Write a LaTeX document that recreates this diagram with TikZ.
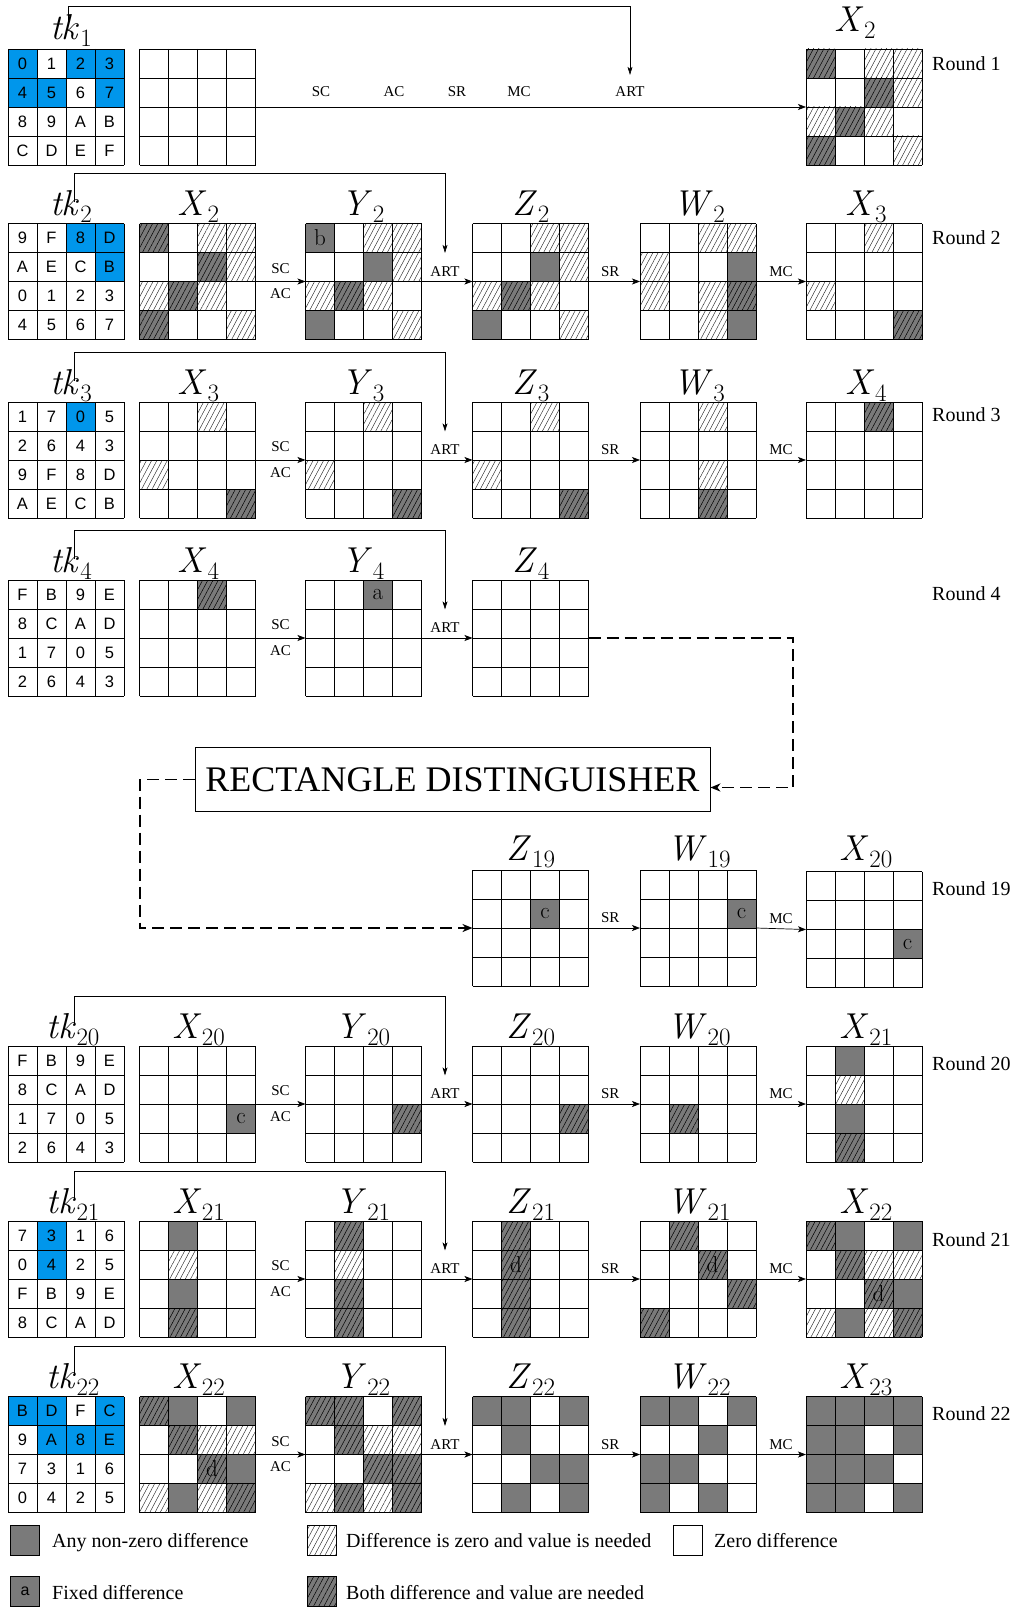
\documentclass[tikz,border=0pt]{standalone}
\usepackage{fontspec}
\newfontfamily\tms{Liberation Serif}
\newfontfamily\hvs{Liberation Sans}
\usetikzlibrary{arrows.meta,patterns.meta,calc}
\definecolor{cgray}{RGB}{122,122,122}
\definecolor{tkblue}{RGB}{0,150,235}
\newcommand{\lb}[2]{\textit{#1}\kern0.5pt\raisebox{-7pt}{\fontsize{25}{28}\selectfont #2}}
\tikzset{
  gl/.style={draw=black,line width=0.9pt},
  cell0/.style={},
  cell1/.style={fill=cgray},
  cell2/.style={pattern={Lines[angle=62,distance=4.6pt,line width=0.45pt]},pattern color=black!85},
  cell3/.style={fill=cgray,postaction={pattern={Lines[angle=62,distance=4.6pt,line width=0.5pt]},pattern color=black}},
  frame/.style={minimum width=116pt,minimum height=116pt,inner sep=0pt,outer sep=0pt},
  lab/.style={font=\fontsize{36}{40}\selectfont,anchor=base,inner sep=0pt},
  oplab/.style={font=\fontsize{15}{18}\selectfont\tms,inner sep=0pt},
  rnd/.style={font=\fontsize{20}{24}\selectfont\tms,anchor=base west,inner sep=0pt},
  legtxt/.style={font=\fontsize{20}{24}\selectfont\tms,anchor=base west,inner sep=0pt},
  hex/.style={font=\fontsize{16.5}{19}\selectfont\hvs,inner sep=0pt},
  let/.style={font=\fontsize{23}{26}\selectfont,inner sep=0pt},
  oparr/.style={-{Stealth[length=8pt,width=6pt,inset=2pt]},line width=0.7pt},
  tkarr/.style={-{Stealth[length=8pt,width=5pt,inset=2pt]},line width=0.6pt},
  dsh/.style={line width=1.9pt,dash pattern=on 12pt off 6pt},
  legbox/.style={draw=black,line width=0.6pt,minimum width=29pt,minimum height=30pt,inner sep=0pt},
}
% #1 name, #2 x, #3 y, #4 codes
\newcommand{\cellgrid}[4]{%
  \node[frame] (#1) at (#2+58,#3+58) {};
  \foreach \c [count=\i from 0] in {#4} {%
    \pgfmathtruncatemacro{\rr}{floor(\i/4)}%
    \pgfmathtruncatemacro{\qq}{\i-4*\rr}%
    \path[cell\c] (#2+\qq*29,#3+\rr*29) rectangle ++(29,29);
  }%
  \foreach \k in {0,...,4} {%
    \draw[gl] (#2+\k*29,#3) -- ++(0,116);
    \draw[gl] (#2,#3+\k*29) -- ++(116,0);
  }%
}
% #1 name, #2 x, #3 y, #4 value/blue list
\newcommand{\tkgrid}[4]{%
  \node[frame] (#1) at (#2+58,#3+58) {};
  \foreach \v/\b [count=\i from 0] in {#4} {%
    \pgfmathtruncatemacro{\rr}{floor(\i/4)}%
    \pgfmathtruncatemacro{\qq}{\i-4*\rr}%
    \ifnum\b=1 \fill[tkblue] (#2+\qq*29,#3+\rr*29) rectangle ++(29,29);\fi
    \node[hex] (#1c\i) at (#2+\qq*29+14.5,#3+\rr*29+14.5) {\v};
  }%
  \foreach \k in {0,...,4} {%
    \draw[gl] (#2+\k*29,#3) -- ++(0,116);
    \draw[gl] (#2,#3+\k*29) -- ++(116,0);
  }%
}
% #1 node name, #2 grid, #3 row, #4 col, #5 text
\newcommand{\lett}[5]{%
  \node[let] (#1) at ($(#2.north west)+(#4*29+14.5,#3*29+14.5)$) {#5};
}
\begin{document}
\begin{tikzpicture}[x=1pt,y=-1pt]
\useasboundingbox (0,0) rectangle (1019,1608);

% ---------------- Round 1
\tkgrid{tkA}{8}{49}{0/1,1/0,2/1,3/1,4/1,5/1,6/0,7/1,8/0,9/0,A/0,B/0,C/0,D/0,E/0,F/0}
\cellgrid{PA}{139.5}{49}{0,0,0,0,0,0,0,0,0,0,0,0,0,0,0,0}
\cellgrid{XbA}{806}{49}{3,0,2,2,0,0,3,2,2,3,2,0,3,0,0,2}
\node[lab] (ltkA) at (71,40) {\lb{tk}{1}};
\node[lab] (lXbA) at (855,32) {\lb{X}{2}};
\node[rnd] (rA) at (932,70.5) {Round 1};
\draw[oparr] (PA.east) -- (XbA.west);
\node[oplab] (scA) at (321,92) {SC};
\node[oplab] (acA) at (394,92) {AC};
\node[oplab] (srA) at (457,92) {SR};
\node[oplab] (mcA) at (519,92) {MC};
\node[oplab] (artA) at (630,92) {ART};
\coordinate (sA) at (68.6,25);
\draw[tkarr] (sA) -- ++(0,-18.3) -| ([yshift=12pt]artA.north);

% ---------------- Round 2
\tkgrid{tkB}{8}{223.5}{9/0,F/0,8/1,D/1,A/0,E/0,C/0,B/1,0/0,1/0,2/0,3/0,4/0,5/0,6/0,7/0}
\cellgrid{XB}{139.5}{223.5}{3,0,2,2,0,0,3,2,2,3,2,0,3,0,0,2}
\cellgrid{YB}{305.5}{223.5}{1,0,2,2,0,0,1,2,2,3,2,0,1,0,0,2}
\cellgrid{ZB}{472.5}{223.5}{0,0,2,2,0,0,1,2,2,3,2,0,1,0,0,2}
\cellgrid{WB}{640}{223.5}{0,0,2,2,2,0,0,1,2,0,2,3,0,0,2,1}
\cellgrid{XXB}{806}{223.5}{0,0,2,0,0,0,0,0,2,0,0,0,0,0,0,3}
\lett{bB}{YB}{0}{0}{b}
\node[lab] (ltkB) at (71,215.5) {\lb{tk}{2}};
\node[lab] (lXB) at (198.5,215.5) {\lb{X}{2}};
\node[lab] (lYB) at (363,215.5) {\lb{Y}{2}};
\node[lab] (lZB) at (531,215.5) {\lb{Z}{2}};
\node[lab] (lWB) at (699,215.5) {\lb{W}{2}};
\node[lab] (lXXB) at (866,215.5) {\lb{X}{3}};
\node[rnd] (rB) at (932,244) {Round 2};
\draw[oparr] (XB.east) -- node[oplab,above=8pt] (scB) {SC} node[oplab,below=7pt] (acB) {AC} (YB.west);
\draw[oparr] (YB.east) -- node[oplab,above=5pt,xshift=-2pt] (artB) {ART} (ZB.west);
\draw[oparr] (ZB.east) -- node[oplab,above=5pt,xshift=-4pt] (srB) {SR} (WB.west);
\draw[oparr] (WB.east) -- node[oplab,above=5pt] (mcB) {MC} (XXB.west);
\coordinate (sB) at (74,202.5);
\draw[tkarr] (sB) -- ++(0,-29) -| ([yshift=13pt]artB.north);

% ---------------- Round 3
\tkgrid{tkC}{8}{402}{1/0,7/0,0/1,5/0,2/0,6/0,4/0,3/0,9/0,F/0,8/0,D/0,A/0,E/0,C/0,B/0}
\cellgrid{XC}{139.5}{402}{0,0,2,0,0,0,0,0,2,0,0,0,0,0,0,3}
\cellgrid{YC}{305.5}{402}{0,0,2,0,0,0,0,0,2,0,0,0,0,0,0,3}
\cellgrid{ZC}{472.5}{402}{0,0,2,0,0,0,0,0,2,0,0,0,0,0,0,3}
\cellgrid{WC}{640}{402}{0,0,2,0,0,0,0,0,0,0,2,0,0,0,3,0}
\cellgrid{XXC}{806}{402}{0,0,3,0,0,0,0,0,0,0,0,0,0,0,0,0}
\node[lab] (ltkC) at (71,394) {\lb{tk}{3}};
\node[lab] (lXC) at (198.5,394) {\lb{X}{3}};
\node[lab] (lYC) at (363,394) {\lb{Y}{3}};
\node[lab] (lZC) at (531,394) {\lb{Z}{3}};
\node[lab] (lWC) at (699,394) {\lb{W}{3}};
\node[lab] (lXXC) at (866,394) {\lb{X}{4}};
\node[rnd] (rC) at (932,421) {Round 3};
\draw[oparr] (XC.east) -- node[oplab,above=8pt] (scC) {SC} node[oplab,below=7pt] (acC) {AC} (YC.west);
\draw[oparr] (YC.east) -- node[oplab,above=5pt,xshift=-2pt] (artC) {ART} (ZC.west);
\draw[oparr] (ZC.east) -- node[oplab,above=5pt,xshift=-4pt] (srC) {SR} (WC.west);
\draw[oparr] (WC.east) -- node[oplab,above=5pt] (mcC) {MC} (XXC.west);
\coordinate (sC) at (74,381);
\draw[tkarr] (sC) -- ++(0,-29) -| ([yshift=13pt]artC.north);

% ---------------- Round 4
\tkgrid{tkD}{8}{580}{F/0,B/0,9/0,E/0,8/0,C/0,A/0,D/0,1/0,7/0,0/0,5/0,2/0,6/0,4/0,3/0}
\cellgrid{XD}{139.5}{580}{0,0,3,0,0,0,0,0,0,0,0,0,0,0,0,0}
\cellgrid{YD}{305.5}{580}{0,0,1,0,0,0,0,0,0,0,0,0,0,0,0,0}
\cellgrid{ZD}{472.5}{580}{0,0,0,0,0,0,0,0,0,0,0,0,0,0,0,0}
\lett{aD}{YD}{0}{2}{a}
\node[lab] (ltkD) at (71,572) {\lb{tk}{4}};
\node[lab] (lXD) at (198.5,572) {\lb{X}{4}};
\node[lab] (lYD) at (363,572) {\lb{Y}{4}};
\node[lab] (lZD) at (531,572) {\lb{Z}{4}};
\node[rnd] (rD) at (932,600) {Round 4};
\draw[oparr] (XD.east) -- node[oplab,above=8pt] (scD) {SC} node[oplab,below=7pt] (acD) {AC} (YD.west);
\draw[oparr] (YD.east) -- node[oplab,above=5pt,xshift=-2pt] (artD) {ART} (ZD.west);
\coordinate (sD) at (74,559);
\draw[tkarr] (sD) -- ++(0,-29) -| ([yshift=13pt]artD.north);

% ---------------- Rectangle distinguisher
\node[draw,line width=0.8pt,minimum width=515pt,minimum height=63.5pt,inner sep=0pt,
      font=\fontsize{36}{40}\selectfont\tms] (rd) at (452.5,779.5) {RECTANGLE DISTINGUISHER};

% ---------------- Round 19
\cellgrid{ZS}{472.5}{870}{0,0,0,0,0,0,1,0,0,0,0,0,0,0,0,0}
\cellgrid{WS}{640}{870}{0,0,0,0,0,0,0,1,0,0,0,0,0,0,0,0}
\cellgrid{XS}{806}{871.5}{0,0,0,0,0,0,0,0,0,0,0,1,0,0,0,0}
\lett{cZS}{ZS}{1}{2}{c}
\lett{cWS}{WS}{1}{3}{c}
\lett{cXS}{XS}{2}{3}{c}
\node[lab] (lZS) at (531,860) {\lb{Z}{19}};
\node[lab] (lWS) at (699,860) {\lb{W}{19}};
\node[lab] (lXS) at (866,860) {\lb{X}{20}};
\node[rnd] (rS) at (932,895) {Round 19};
\draw[oparr] (ZS.east) -- node[oplab,above=5pt,xshift=-4pt] (srS) {SR} (WS.west);
\draw[oparr] (WS.east) -- node[oplab,above=5pt] (mcS) {MC} (XS.west);

% dashed connections
\draw[dsh,-{Stealth[length=10pt,width=8pt,inset=3pt]}] (ZD.east) -| ($(rd.east)+(83,8)$) -- ($(rd.east)+(0,8)$);
\draw[dsh,-{Stealth[length=10pt,width=8pt,inset=3pt]}] (rd.west) -- ++(-55,0) |- (ZS.west);

% ---------------- Round 20
\tkgrid{tkE}{8}{1046}{F/0,B/0,9/0,E/0,8/0,C/0,A/0,D/0,1/0,7/0,0/0,5/0,2/0,6/0,4/0,3/0}
\cellgrid{XE}{139.5}{1046}{0,0,0,0,0,0,0,0,0,0,0,1,0,0,0,0}
\cellgrid{YE}{305.5}{1046}{0,0,0,0,0,0,0,0,0,0,0,3,0,0,0,0}
\cellgrid{ZE}{472.5}{1046}{0,0,0,0,0,0,0,0,0,0,0,3,0,0,0,0}
\cellgrid{WE}{640}{1046}{0,0,0,0,0,0,0,0,0,3,0,0,0,0,0,0}
\cellgrid{XXE}{806}{1046}{0,1,0,0,0,2,0,0,0,1,0,0,0,3,0,0}
\lett{cXE}{XE}{2}{3}{c}
\node[lab] (ltkE) at (73,1038) {\lb{tk}{20}};
\node[lab] (lXE) at (198.5,1038) {\lb{X}{20}};
\node[lab] (lYE) at (363,1038) {\lb{Y}{20}};
\node[lab] (lZE) at (531,1038) {\lb{Z}{20}};
\node[lab] (lWE) at (699,1038) {\lb{W}{20}};
\node[lab] (lXXE) at (866,1038) {\lb{X}{21}};
\node[rnd] (rE) at (932,1070) {Round 20};
\draw[oparr] (XE.east) -- node[oplab,above=8pt] (scE) {SC} node[oplab,below=7pt] (acE) {AC} (YE.west);
\draw[oparr] (YE.east) -- node[oplab,above=5pt,xshift=-2pt] (artE) {ART} (ZE.west);
\draw[oparr] (ZE.east) -- node[oplab,above=5pt,xshift=-4pt] (srE) {SR} (WE.west);
\draw[oparr] (WE.east) -- node[oplab,above=5pt] (mcE) {MC} (XXE.west);
\coordinate (sE) at (74,1025);
\draw[tkarr] (sE) -- ++(0,-29) -| ([yshift=13pt]artE.north);

% ---------------- Round 21
\tkgrid{tkF}{8}{1221}{7/0,3/1,1/0,6/0,0/0,4/1,2/0,5/0,F/0,B/0,9/0,E/0,8/0,C/0,A/0,D/0}
\cellgrid{XF}{139.5}{1221}{0,1,0,0,0,2,0,0,0,1,0,0,0,3,0,0}
\cellgrid{YF}{305.5}{1221}{0,3,0,0,0,2,0,0,0,3,0,0,0,3,0,0}
\cellgrid{ZF}{472.5}{1221}{0,3,0,0,0,3,0,0,0,3,0,0,0,3,0,0}
\cellgrid{WF}{640}{1221}{0,3,0,0,0,0,3,0,0,0,0,3,3,0,0,0}
\cellgrid{XXF}{806}{1221}{3,1,0,1,0,3,2,2,0,0,3,1,2,1,2,3}
\lett{dZF}{ZF}{1}{1}{d}
\lett{dWF}{WF}{1}{2}{d}
\lett{dXXF}{XXF}{2}{2}{d}
\node[lab] (ltkF) at (73,1213) {\lb{tk}{21}};
\node[lab] (lXF) at (198.5,1213) {\lb{X}{21}};
\node[lab] (lYF) at (363,1213) {\lb{Y}{21}};
\node[lab] (lZF) at (531,1213) {\lb{Z}{21}};
\node[lab] (lWF) at (699,1213) {\lb{W}{21}};
\node[lab] (lXXF) at (866,1213) {\lb{X}{22}};
\node[rnd] (rF) at (932,1246) {Round 21};
\draw[oparr] (XF.east) -- node[oplab,above=8pt] (scF) {SC} node[oplab,below=7pt] (acF) {AC} (YF.west);
\draw[oparr] (YF.east) -- node[oplab,above=5pt,xshift=-2pt] (artF) {ART} (ZF.west);
\draw[oparr] (ZF.east) -- node[oplab,above=5pt,xshift=-4pt] (srF) {SR} (WF.west);
\draw[oparr] (WF.east) -- node[oplab,above=5pt] (mcF) {MC} (XXF.west);
\coordinate (sF) at (74,1200);
\draw[tkarr] (sF) -- ++(0,-29) -| ([yshift=13pt]artF.north);

% ---------------- Round 22
\tkgrid{tkG}{8}{1396.5}{B/1,D/1,F/0,C/1,9/0,A/1,8/1,E/1,7/0,3/0,1/0,6/0,0/0,4/0,2/0,5/0}
\cellgrid{XG}{139.5}{1396.5}{3,1,0,1,0,3,2,2,0,0,3,1,2,1,2,3}
\cellgrid{YG}{305.5}{1396.5}{3,3,0,3,0,3,2,2,0,0,3,3,2,3,2,3}
\cellgrid{ZG}{472.5}{1396.5}{1,1,0,1,0,1,0,0,0,0,1,1,0,1,0,1}
\cellgrid{WG}{640}{1396.5}{1,1,0,1,0,0,1,0,1,1,0,0,1,0,1,0}
\cellgrid{XXG}{806}{1396.5}{1,1,1,1,1,1,0,1,1,1,1,0,1,1,0,1}
\lett{dXG}{XG}{2}{2}{d}
\node[lab] (ltkG) at (73,1388.5) {\lb{tk}{22}};
\node[lab] (lXG) at (198.5,1388.5) {\lb{X}{22}};
\node[lab] (lYG) at (363,1388.5) {\lb{Y}{22}};
\node[lab] (lZG) at (531,1388.5) {\lb{Z}{22}};
\node[lab] (lWG) at (699,1388.5) {\lb{W}{22}};
\node[lab] (lXXG) at (866,1388.5) {\lb{X}{23}};
\node[rnd] (rG) at (932,1420) {Round 22};
\draw[oparr] (XG.east) -- node[oplab,above=8pt] (scG) {SC} node[oplab,below=7pt] (acG) {AC} (YG.west);
\draw[oparr] (YG.east) -- node[oplab,above=5pt,xshift=-2pt] (artG) {ART} (ZG.west);
\draw[oparr] (ZG.east) -- node[oplab,above=5pt,xshift=-4pt] (srG) {SR} (WG.west);
\draw[oparr] (WG.east) -- node[oplab,above=5pt] (mcG) {MC} (XXG.west);
\coordinate (sG) at (74,1375.5);
\draw[tkarr] (sG) -- ++(0,-29) -| ([yshift=13pt]artG.north);

% ---------------- Legend
\node[legbox,cell1] (lg1) at (25,1540) {};
\node[legtxt] (lt1) at (52,1547) {Any non-zero difference};
\node[legbox,cell2] (lg2) at (322,1540) {};
\node[legtxt] (lt2) at (346,1547) {Difference is zero and value is needed};
\node[legbox] (lg3) at (688,1540) {};
\node[legtxt] (lt3) at (714,1547) {Zero difference};
\node[legbox,cell1,font=\fontsize{16}{19}\selectfont\hvs] (lg4) at (25,1591.5) {a};
\node[legtxt] (lt4) at (52,1599) {Fixed difference};
\node[legbox,cell3] (lg5) at (322,1591.5) {};
\node[legtxt] (lt5) at (346,1599) {Both difference and value are needed};
\end{tikzpicture}
\end{document}
